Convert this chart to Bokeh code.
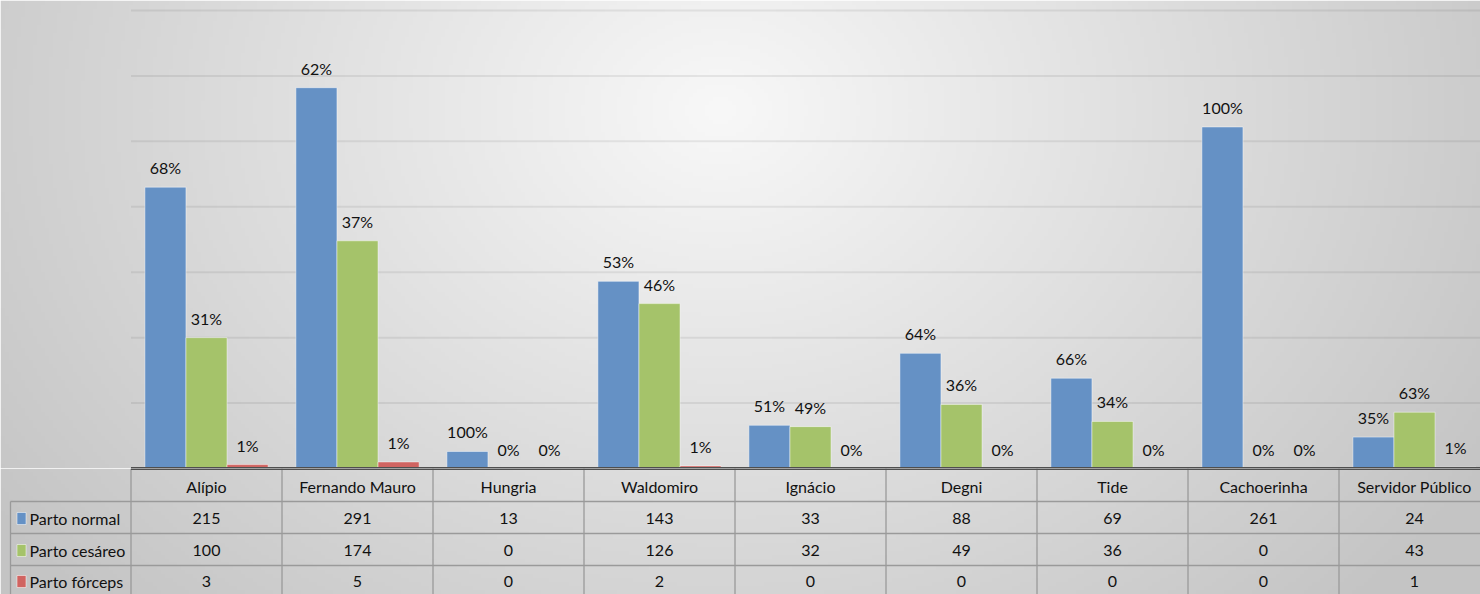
import numpy as np
from bokeh.plotting import figure
from bokeh.layouts import column
from bokeh.models import Range1d
from bokeh.core.properties import value
from bokeh.embed import file_html
from bokeh.resources import INLINE

# ---------------- data ----------------
categories = ["Alípio", "Fernando Mauro", "Hungria", "Waldomiro", "Ignácio",
              "Degni", "Tide", "Cachoerinha", "Servidor Público"]
series_names = ["Parto normal", "Parto cesáreo", "Parto fórceps"]
parto_normal = [215, 291, 13, 143, 33, 88, 69, 261, 24]
parto_cesareo = [100, 174, 0, 126, 32, 49, 36, 0, 43]
parto_forceps = [3, 5, 0, 2, 0, 0, 0, 0, 1]
grid_ticks = [50, 100, 150, 200, 250, 300, 350]

series = [parto_normal, parto_cesareo, parto_forceps]
colors = ["#6591c5", "#a5c36a", "#d06461"]
FONT = value("Lato")
TXT = "#111111"

# ---------------- layout constants (screen px of the reference) ----------------
W = 1480          # figure width
CH = 468          # chart height
TH = 126          # table height
X0 = 130.5        # screen x of first category boundary
CW = 151.0        # category width in px
def px2x(X):
    return (X - X0) / CW

x_start = px2x(0)
x_end = px2x(W)
y_end = 350 * CH / (CH - 10)


def gradient(top_px, h, w=W, step=4):
    nx, ny = int(np.ceil(w / step)), int(np.ceil(h / step))
    X = (np.arange(nx) + 0.5) * step
    Y = top_px + (np.arange(ny) + 0.5) * step
    XX, YY = np.meshgrid(X, Y)
    d = np.sqrt(((XX - 720) / 760.0) ** 2 + ((YY - 110) / 600.0) ** 2)
    v = np.clip(248 - 44 * d, 196, 255).astype(np.uint8)
    img = np.empty((ny, nx), dtype=np.uint32)
    view = img.view(dtype=np.uint8).reshape((ny, nx, 4))
    view[..., 0] = v
    view[..., 1] = v
    view[..., 2] = v
    view[..., 3] = 255
    return img[::-1]


# ---------------- chart ----------------
p = figure(width=W, height=CH, x_range=Range1d(x_start, x_end),
           y_range=Range1d(0, y_end), output_backend="svg",
           toolbar_location=None, x_axis_location=None, y_axis_location=None,
           min_border=0, outline_line_color=None)
p.grid.visible = False
p.border_fill_color = None
p.background_fill_color = None

p.image_rgba(image=[gradient(0, CH)], x=x_start, y=0, dw=x_end - x_start, dh=y_end)
p.segment(x0=[0] * len(grid_ticks), y0=grid_ticks, x1=[x_end] * len(grid_ticks),
          y1=grid_ticks, line_color="black", line_alpha=0.07, line_width=2)

bw = 0.272
totals = [sum(v) for v in zip(*series)]
for s, vals in enumerate(series):
    xs = [i + 0.5 + (s - 1) * bw for i in range(len(categories))]
    p.vbar(x=xs, top=vals, bottom=0, width=bw, fill_color=colors[s],
           line_color="white", line_alpha=0.45, line_width=1)
    pcts = [f"{int(v / t * 100 + 0.5)}%" for v, t in zip(vals, totals)]
    p.text(x=xs, y=vals, text=pcts, text_align="center", text_baseline="bottom",
           y_offset=-10, text_font=FONT, text_font_size="16px", text_color=TXT)

p.segment(x0=[0], y0=[0], x1=[x_end], y1=[0], line_color="#4f4f4f", line_width=3)

# ---------------- data table ----------------
t = figure(width=W, height=TH, x_range=p.x_range, y_range=Range1d(0, TH),
           output_backend="svg", toolbar_location=None, x_axis_location=None,
           y_axis_location=None, min_border=0, outline_line_color=None)
t.grid.visible = False
t.border_fill_color = None
t.background_fill_color = None
t.image_rgba(image=[gradient(CH, TH)], x=x_start, y=0, dw=x_end - x_start, dh=TH)

def ty(py):
    return TH - py

row_lines = [33, 65, 97]
row_centers = [50, 82, 113]
x_left = px2x(10)
line_col = "#9a9a9a"

# vertical lines
vx = list(range(0, len(categories)))
t.segment(x0=vx, y0=[0] * len(vx), x1=vx, y1=[TH] * len(vx),
          line_color=line_col, line_width=1.3)
t.segment(x0=[x_left], y0=[0], x1=[x_left], y1=[ty(33)],
          line_color=line_col, line_width=1.3)
# horizontal lines
t.segment(x0=[x_left] * 3, y0=[ty(r) for r in row_lines], x1=[x_end] * 3,
          y1=[ty(r) for r in row_lines], line_color=line_col, line_width=1.3)
# axis line (top of table)
t.segment(x0=[0], y0=[TH], x1=[x_end], y1=[TH], line_color="#4f4f4f", line_width=3)

cx = [i + 0.5 for i in range(len(categories))]
t.text(x=cx, y=[ty(18)] * len(cx), text=categories, text_align="center",
       text_baseline="middle", text_font=FONT, text_font_size="16px", text_color=TXT)
for r, vals in enumerate(series):
    yc = ty(row_centers[r])
    t.text(x=cx, y=[yc] * len(cx), text=[str(v) for v in vals], text_align="center",
           text_baseline="middle", text_font=FONT, text_font_size="16px", text_color=TXT)
    t.rect(x=[px2x(21)], y=[yc], width=9, height=12, width_units="screen",
           height_units="screen", fill_color=colors[r], line_color="white",
           line_alpha=0.5, line_width=1)
    t.text(x=[px2x(29)], y=[yc], text=[series_names[r]], text_align="left",
           text_baseline="middle", text_font=FONT, text_font_size="16px", text_color=TXT)

layout = column(p, t, spacing=0)
open("out.html", "w").write(file_html(layout, INLINE, "chart"))
